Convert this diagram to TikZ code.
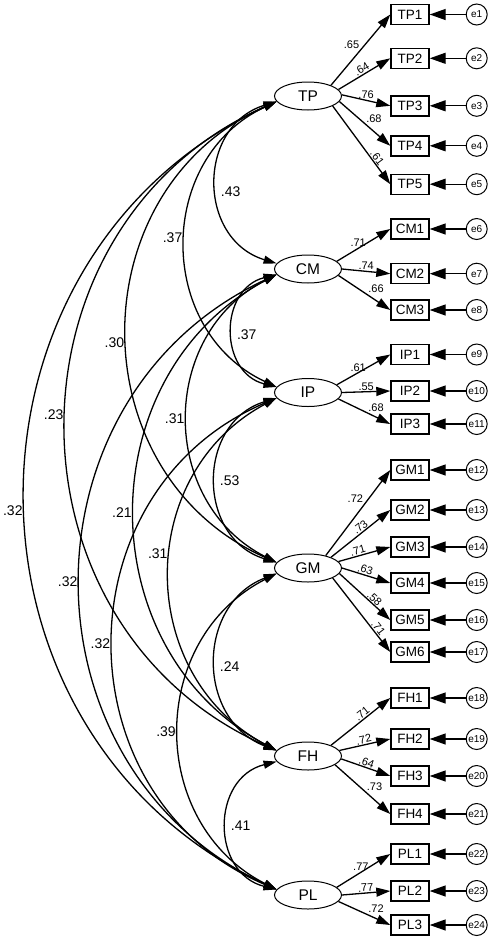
\documentclass[tikz,border=0pt]{standalone}
\usepackage{fontspec}
\setmainfont{Liberation Sans}
\usetikzlibrary{shapes.geometric,arrows.meta,positioning}

\begin{document}
\begin{tikzpicture}[x=1pt,y=1pt,node distance=36pt,
  latent/.style={draw,ellipse,line width=1pt,minimum width=67pt,minimum height=28pt,inner sep=0pt,font=\fontsize{15.5}{17}\selectfont},
  item/.style={draw,rectangle,line width=1.4pt,minimum width=38pt,minimum height=20pt,inner sep=0pt,font=\fontsize{13.5}{15}\selectfont},
  err/.style={draw,circle,line width=1pt,minimum size=21pt,inner sep=0pt,font=\fontsize{10}{11}\selectfont},
  load/.style={-{Triangle[length=14pt,width=9pt]},line width=1.3pt},
  errarr/.style={-{Triangle[length=16pt,width=11pt]},line width=1.3pt},
  cov/.style={{Triangle[length=13pt,width=8pt]}-{Triangle[length=13pt,width=8pt]},line width=1.3pt},
  ldlbl/.style={font=\fontsize{11}{12}\selectfont,inner sep=0.8pt},
  covlbl/.style={font=\fontsize{14}{15}\selectfont,inner sep=3pt},
  ldu/.style={above},ldul/.style={above left},ldur/.style={above right},lds/.style={sloped,above}]
  \useasboundingbox (0,0) rectangle (489,-937);
  \foreach \n/\y in {TP/96,CM/269,IP/392.5,GM/568,FH/756,PL/895}
    \node[latent] (\n) at (308,-\y) {\n};
  \foreach \n/\y/\e in {TP1/14.5/1,TP2/58.3/2,TP3/105.8/3,TP4/145.8/4,TP5/184.2/5,
      CM1/229/6,CM2/273.7/7,CM3/310/8,IP1/354.5/9,IP2/391/10,IP3/424/11,
      GM1/470/12,GM2/510/13,GM3/547/14,GM4/583/15,GM5/620/16,GM6/652/17,
      FH1/698/18,FH2/739/19,FH3/776/20,FH4/814/21,PL1/854/22,PL2/891/23,PL3/925/24}{
    \node[item] (\n) at (410,-\y) {\n};
    \node[err,right=of \n] (e\e) {e\e};
    \draw[errarr] (e\e) -- (\n);
  }
  \foreach \f/\a/\n/\v/\s/\p in {TP/25/TP1/.65/ldul/.5,TP/12/TP2/.64/lds/.5,TP/2/TP3/.76/ldu/.5,
      TP/-10/TP4/.68/ldur/.5,TP/-22/TP5/.61/lds/.7,
      CM/15/CM1/.71/ldu/.4,CM/0/CM2/.74/ldu/.5,CM/-12/CM3/.66/ldur/.55,
      IP/15/IP1/.61/ldu/.4,IP/0/IP2/.55/ldu/.5,IP/-12/IP3/.68/ldur/.55,
      GM/35/GM1/.72/ldul/.6,GM/25/GM2/.73/lds/.55,GM/12/GM3/.71/lds/.4,
      GM/0/GM4/.63/lds/.45,GM/-10/GM5/.58/lds/.62,GM/-22/GM6/.71/lds/.72,
      FH/25/FH1/.71/lds/.58,FH/10/FH2/.72/lds/.5,FH/-5/FH3/.64/lds/.48,FH/-18/FH4/.73/ldur/.55,
      PL/15/PL1/.77/ldu/.45,PL/0/PL2/.77/lds/.5,PL/-12/PL3/.72/ldur/.55}
    \draw[load] (\f.\a) -- node[ldlbl,\s,pos=\p] {\v} (\n.west);
  \foreach \a/\b/\t/\l/\v/\s/\p in {TP/CM/73/1.32/.43/right/.545,TP/IP/65/1.2/.37/left/.48,
      TP/GM/66/1.21/.30/left/.52,TP/FH/66/1.21/.23/left/.485,TP/PL/65/1.2/.32/left/.516,
      CM/IP/76/1.36/.37/right/.53,CM/GM/63/1.18/.31/left/.5,CM/FH/62/1.15/.21/left/.5,
      CM/PL/65/1.2/.32/left/.5,IP/GM/73/1.31/.53/right/.5,IP/FH/62/1.17/.31/left/.45,
      IP/PL/67/1.23/.32/left/.5,GM/FH/69/1.25/.24/right/.52,GM/PL/63/1.18/.39/left/.5,
      FH/PL/76/1.36/.41/right/.5}
    \draw[cov] (\a.190) to[bend right=\t,looseness=\l] node[covlbl,\s,pos=\p] {\v} (\b.170);
\end{tikzpicture}
\end{document}
